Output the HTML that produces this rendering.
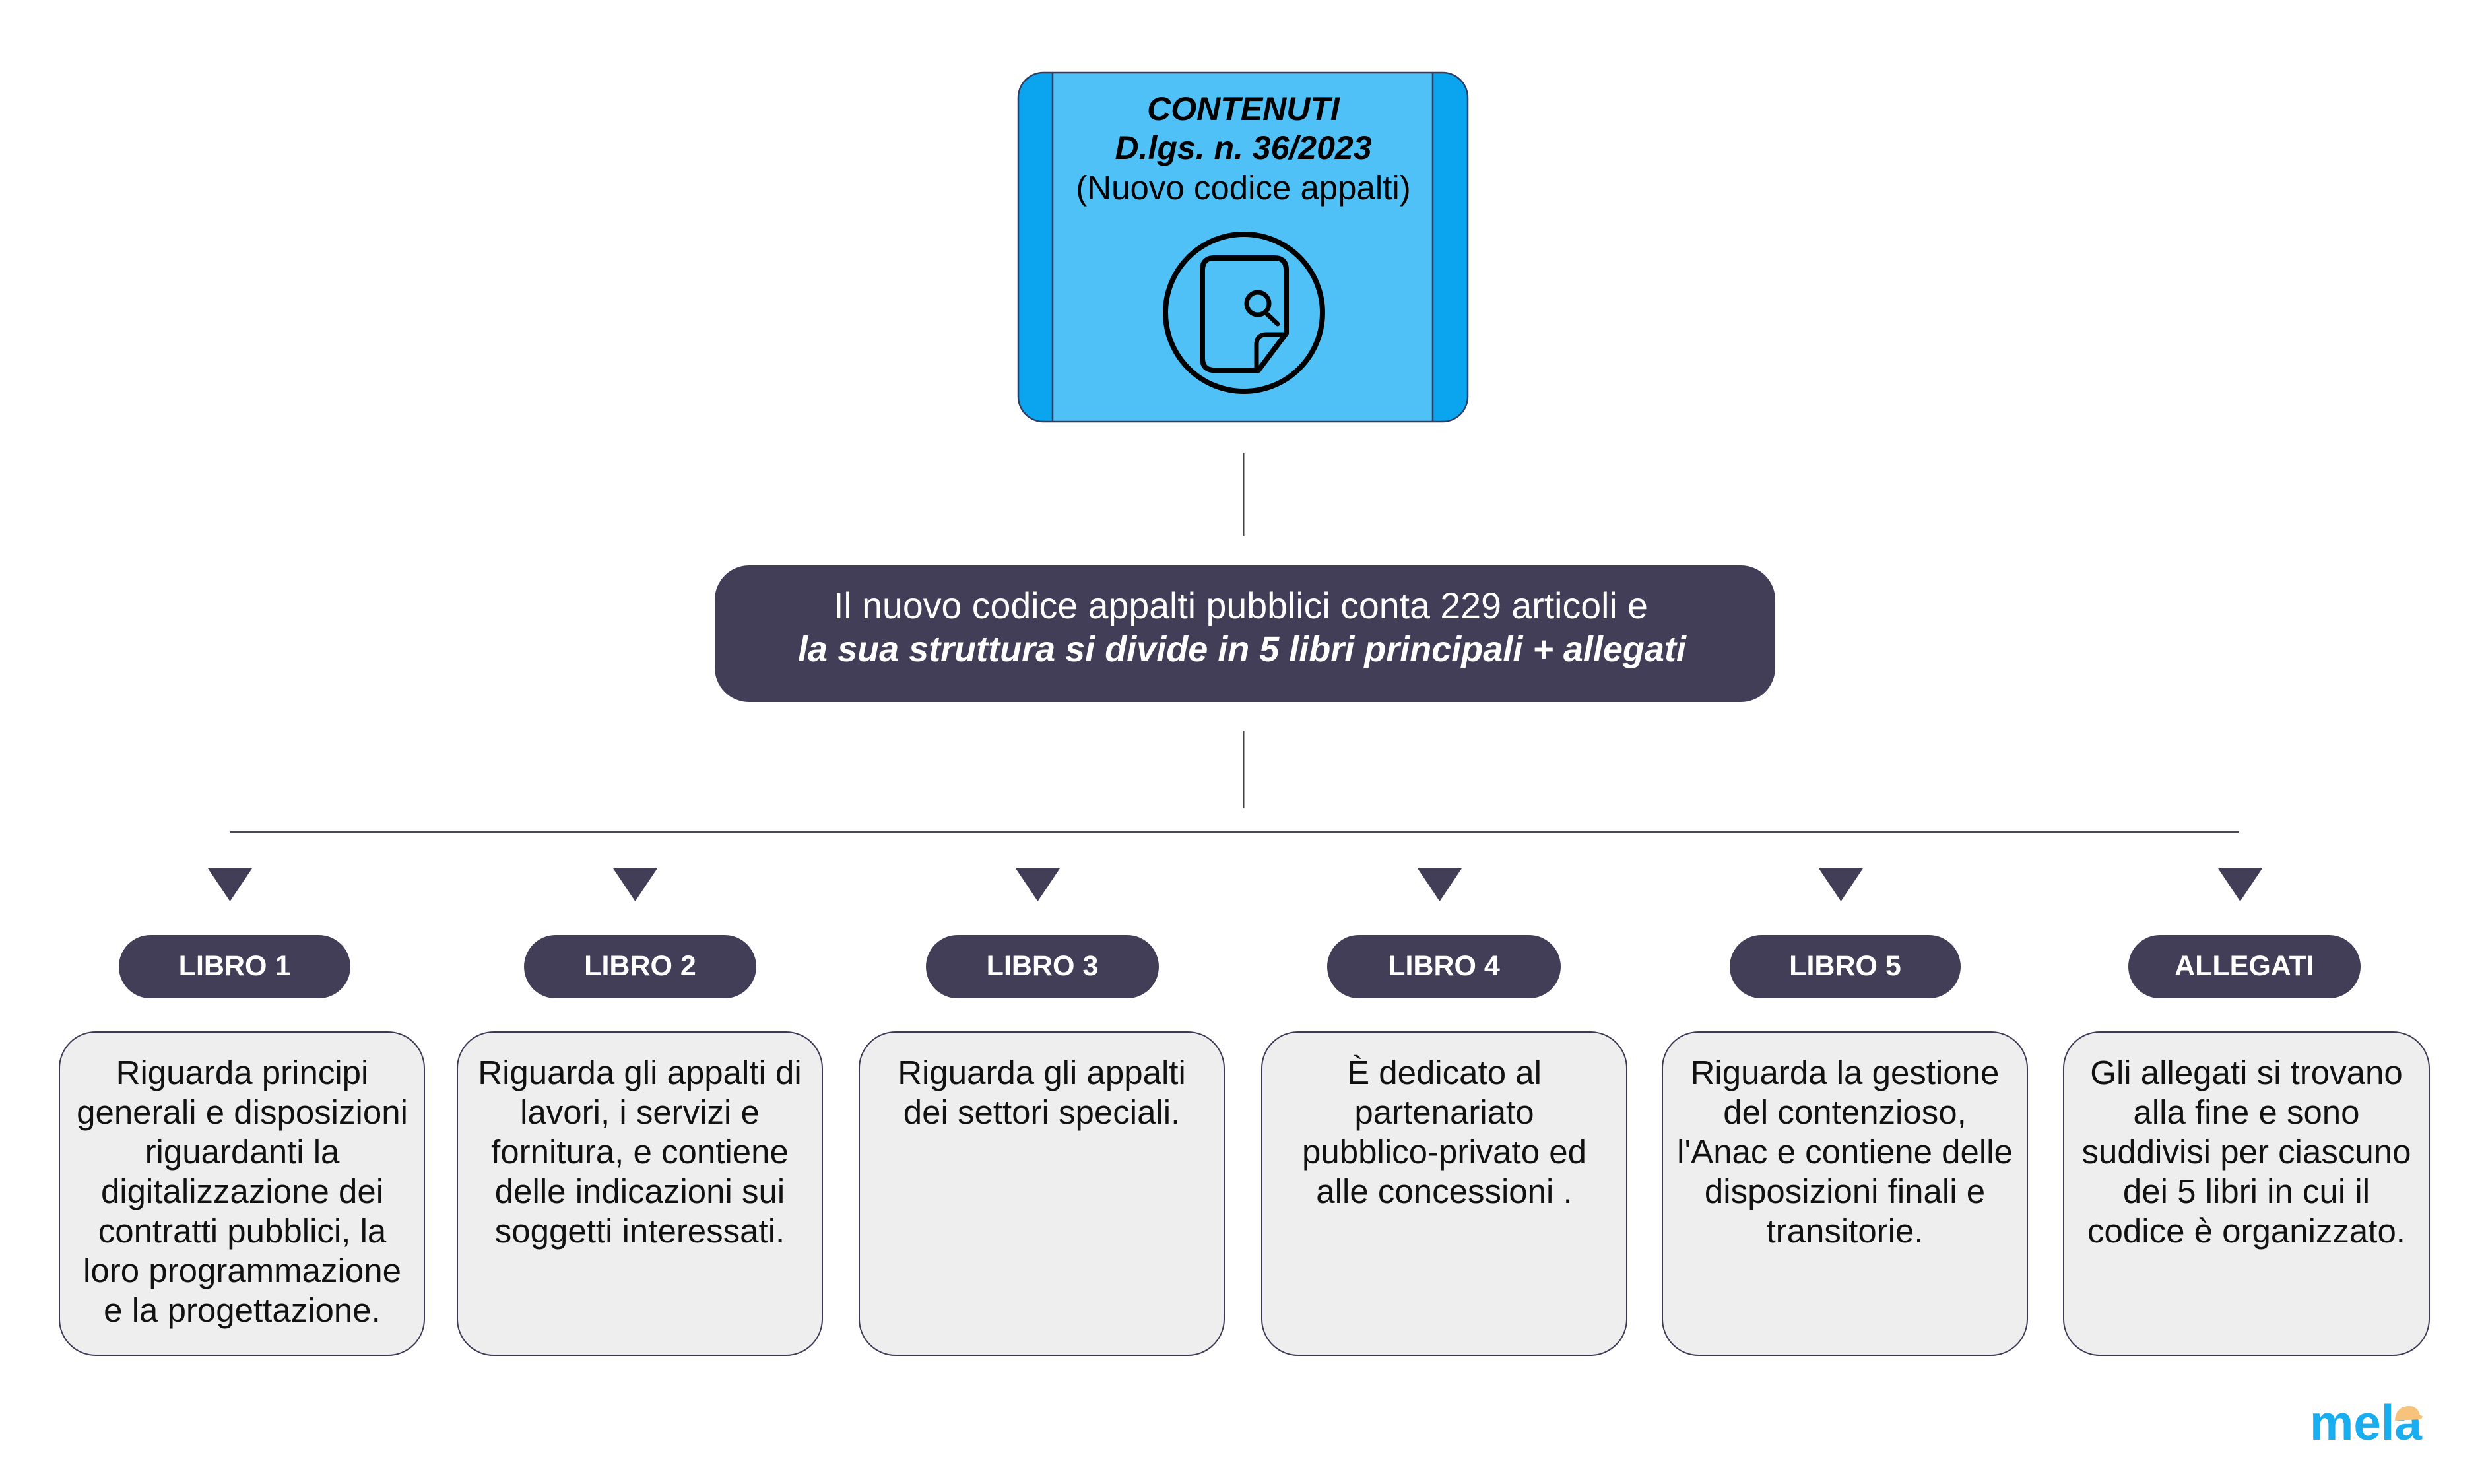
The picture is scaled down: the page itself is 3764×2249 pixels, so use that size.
<!DOCTYPE html>
<html>
<head>
<meta charset="utf-8">
<style>
  html,body{margin:0;padding:0;background:#ffffff;}
  body{width:3764px;height:2249px;overflow:hidden;}
  svg{display:block;}
  .t{font-family:"Liberation Sans",Arial,sans-serif;}
</style>
</head>
<body>
<svg width="3764" height="2249" viewBox="0 0 3764 2249" xmlns="http://www.w3.org/2000/svg">
  <defs>
    <clipPath id="topclip">
      <rect x="1543" y="110" width="681" height="529" rx="38" ry="38"/>
    </clipPath>
  </defs>

  <!-- Top blue box -->
  <g clip-path="url(#topclip)">
    <rect x="1543" y="110" width="681" height="529" fill="#4fc1f6"/>
    <rect x="1543" y="110" width="52" height="529" fill="#0aa5ee"/>
    <rect x="2171" y="110" width="53" height="529" fill="#0aa5ee"/>
  </g>
  <line x1="1595" y1="110" x2="1595" y2="639" stroke="#2d3d63" stroke-width="2.5"/>
  <line x1="2171" y1="110" x2="2171" y2="639" stroke="#2d3d63" stroke-width="2.5"/>
  <rect x="1543" y="110" width="681" height="529" rx="38" ry="38" fill="none" stroke="#2d3d63" stroke-width="2.5"/>

  <text class="t" x="1884" y="182" text-anchor="middle" font-size="50" font-weight="bold" font-style="italic" fill="#000">CONTENUTI</text>
  <text class="t" x="1884" y="241" text-anchor="middle" font-size="50" font-weight="bold" font-style="italic" fill="#000">D.lgs. n. 36/2023</text>
  <text class="t" x="1884" y="302" text-anchor="middle" font-size="51" fill="#000">(Nuovo codice appalti)</text>

  <!-- Icon -->
  <circle cx="1885" cy="474" r="119" fill="none" stroke="#000" stroke-width="8"/>
  <path d="M1907,561 L1840,561 Q1822,561 1822,543 L1822,409 Q1822,391 1840,391 L1931,391 Q1949,391 1949,409 L1949,505 Z" fill="none" stroke="#000" stroke-width="8" stroke-linejoin="round"/>
  <path d="M1904,558 L1904,522 Q1904,507 1919,507 L1946,507" fill="none" stroke="#000" stroke-width="7" stroke-linejoin="round"/>
  <circle cx="1906" cy="460" r="17" fill="none" stroke="#000" stroke-width="7"/>
  <line x1="1919" y1="475" x2="1936" y2="491" stroke="#000" stroke-width="7" stroke-linecap="round"/>

  <!-- connectors -->
  <line x1="1884.5" y1="686" x2="1884.5" y2="812" stroke="#444" stroke-width="2"/>
  <line x1="1884.5" y1="1108" x2="1884.5" y2="1225" stroke="#444" stroke-width="2"/>
  <line x1="348" y1="1260.5" x2="3393" y2="1260.5" stroke="#4a4760" stroke-width="3"/>

  <!-- Middle dark pill -->
  <rect x="1083" y="857" width="1607" height="207" rx="52" ry="52" fill="#423e57"/>
  <text class="t" x="1880" y="937" text-anchor="middle" font-size="55.5" fill="#ffffff">Il nuovo codice appalti pubblici conta 229 articoli e</text>
  <text class="t" x="1882" y="1002" text-anchor="middle" font-size="54" font-weight="bold" font-style="italic" fill="#ffffff">la sua struttura si divide in 5 libri principali + allegati</text>

  <!-- Triangles -->
  <g fill="#423e57">
    <polygon points="315,1316 382,1316 348.5,1366"/>
    <polygon points="929,1316 996,1316 962.5,1366"/>
    <polygon points="1539,1316 1606,1316 1572.5,1366"/>
    <polygon points="2148,1316 2215,1316 2181.5,1366"/>
    <polygon points="2756,1316 2823,1316 2789.5,1366"/>
    <polygon points="3361,1316 3428,1316 3394.5,1366"/>
  </g>

  <!-- Pills -->
  <g fill="#423e57">
    <rect x="180" y="1417" width="351" height="96" rx="48" ry="48"/>
    <rect x="794" y="1417" width="352" height="96" rx="48" ry="48"/>
    <rect x="1403" y="1417" width="353" height="96" rx="48" ry="48"/>
    <rect x="2011" y="1417" width="354" height="96" rx="48" ry="48"/>
    <rect x="2621" y="1417" width="350" height="96" rx="48" ry="48"/>
    <rect x="3225" y="1417" width="352" height="96" rx="48" ry="48"/>
  </g>
  <g class="t" font-size="43" font-weight="bold" fill="#ffffff" text-anchor="middle">
    <text x="355.5" y="1478">LIBRO 1</text>
    <text x="970" y="1478">LIBRO 2</text>
    <text x="1579.5" y="1478">LIBRO 3</text>
    <text x="2188" y="1478">LIBRO 4</text>
    <text x="2796" y="1478">LIBRO 5</text>
    <text x="3401" y="1478">ALLEGATI</text>
  </g>

  <!-- Description boxes -->
  <g fill="#eeeeee" stroke="#3d3a55" stroke-width="2">
    <rect x="90" y="1564" width="553" height="490" rx="55" ry="55"/>
    <rect x="693" y="1564" width="553" height="490" rx="55" ry="55"/>
    <rect x="1302" y="1564" width="553" height="490" rx="55" ry="55"/>
    <rect x="1912" y="1564" width="553" height="490" rx="55" ry="55"/>
    <rect x="2519" y="1564" width="553" height="490" rx="55" ry="55"/>
    <rect x="3127" y="1564" width="554" height="490" rx="55" ry="55"/>
  </g>

  <g class="t" font-size="51" fill="#111111" text-anchor="middle">
    <text x="367" y="1643">Riguarda principi</text>
    <text x="367" y="1703">generali e disposizioni</text>
    <text x="367" y="1763">riguardanti la</text>
    <text x="367" y="1823">digitalizzazione dei</text>
    <text x="367" y="1883">contratti pubblici, la</text>
    <text x="367" y="1943">loro programmazione</text>
    <text x="367" y="2003">e la progettazione.</text>

    <text x="969.5" y="1643">Riguarda gli appalti di</text>
    <text x="969.5" y="1703">lavori, i servizi e</text>
    <text x="969.5" y="1763">fornitura, e contiene</text>
    <text x="969.5" y="1823">delle indicazioni sui</text>
    <text x="969.5" y="1883">soggetti interessati.</text>

    <text x="1578.5" y="1643">Riguarda gli appalti</text>
    <text x="1578.5" y="1703">dei settori speciali.</text>

    <text x="2188.5" y="1643">È dedicato al</text>
    <text x="2188.5" y="1703">partenariato</text>
    <text x="2188.5" y="1763">pubblico-privato ed</text>
    <text x="2188.5" y="1823">alle concessioni .</text>

    <text x="2795.5" y="1643">Riguarda la gestione</text>
    <text x="2795.5" y="1703">del contenzioso,</text>
    <text x="2795.5" y="1763">l'Anac e contiene delle</text>
    <text x="2795.5" y="1823">disposizioni finali e</text>
    <text x="2795.5" y="1883">transitorie.</text>

    <text x="3404" y="1643">Gli allegati si trovano</text>
    <text x="3404" y="1703">alla fine e sono</text>
    <text x="3404" y="1763">suddivisi per ciascuno</text>
    <text x="3404" y="1823">dei 5 libri in cui il</text>
    <text x="3404" y="1883">codice è organizzato.</text>
  </g>

  <!-- mela logo -->
  <text class="t" x="3500" y="2182" font-size="75" font-weight="bold" fill="#18aeef" textLength="170" lengthAdjust="spacingAndGlyphs">mela</text>
  <path d="M3629,2153 Q3630,2132 3650,2131 Q3664,2131 3667,2145 L3671,2146 L3669,2151 Z" fill="#f7c27a"/>
</svg>
</body>
</html>
